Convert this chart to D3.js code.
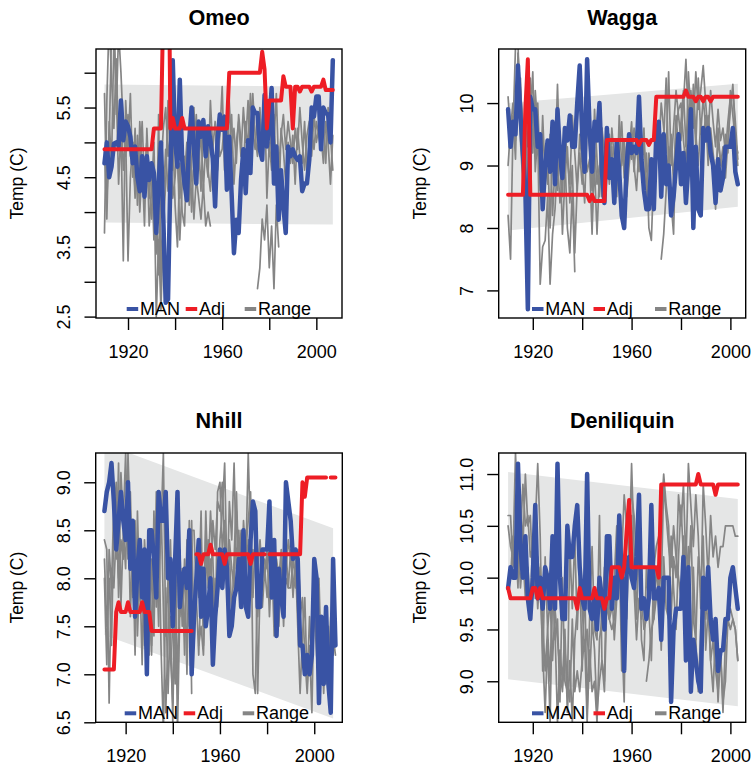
<!DOCTYPE html>
<html><head><meta charset="utf-8">
<script src="https://cdn.jsdelivr.net/npm/d3@7/dist/d3.min.js"></script>
<style>body{margin:0;background:#fff} svg{display:block}</style>
</head><body><svg id="c" width="753" height="766"></svg>
<script>
// ---------------- DATA ----------------
const stationNames = ["Omeo", "Wagga", "Nhill", "Deniliquin"];
const legendLabels = ["MAN", "Adj", "Range"];
const xTickValues = [1920, 1940, 1960, 1980, 2000];
const xTickLabels = [1920, 1960, 2000];

// Omeo (1910-2007)
const omeoStart = 1910;
const omeoMAN = [
 4.70,5.0,4.5,4.65,4.98,5.0,4.95,5.6,5.03,5.3,
 5.23,5.08,4.7,4.94,4.5,4.3,4.8,4.22,4.8,4.46,
 4.7,4.56,3.7,4.4,5.0,3.9,2.7,2.75,4.5,6.18,
 5.03,4.65,5.9,4.75,4.41,4.17,5.03,5.5,4.9,4.41,
 5.3,5.08,5.32,4.8,5.23,5.03,4.77,4.08,5.03,5.4,
 5.18,5.37,4.32,5.08,4.27,3.41,3.89,3.7,4.46,4.9,
 4.27,5.03,4.56,5.5,5.42,5.42,4.9,4.75,5.68,4.94,
 5.23,5.78,4.41,4.94,3.89,4.6,4.08,3.7,4.94,4.8,
 4.9,4.8,4.75,4.8,4.3,4.41,4.41,4.75,5.5,5.37,
 5.66,5.66,4.9,5.5,5.42,5.4,5.0,6.18];
const omeoAdj = [
 4.9,4.9,4.9,4.9,4.9,4.9,4.9,4.9,4.9,4.9,
 4.9,4.9,4.9,4.9,4.9,4.9,4.9,4.9,4.9,4.9,
 4.9,5.2,5.2,5.2,5.2,7.0,8.0,9.0,5.2,5.35,
 5.2,5.2,5.2,5.35,5.2,5.2,5.2,5.2,5.2,5.2,
 5.2,5.2,5.2,5.2,5.2,5.2,5.2,5.2,5.2,5.2,
 5.2,5.2,5.2,6.0,6.0,6.0,6.0,6.0,6.0,6.0,
 6.0,6.0,6.0,6.0,6.0,6.0,6.0,6.3,6.05,5.2,
 5.6,5.6,5.6,5.6,5.6,5.6,5.95,5.8,5.8,5.8,
 5.2,5.8,5.8,5.73,5.8,5.8,5.8,5.8,5.73,5.8,
 5.8,5.8,5.8,5.9,5.75,5.75,5.75,5.75];
const omeoRange1 = [
 5.7,4.2,5.0,6.6,6.9,5.4,6.6,6.0,5.2,4.8,
 5.4,4.8,5.0,4.3,5.1,4.6,5.3,4.4,5.0,4.2,
 4.7,3.6,4.3,3.1,4.6,5.2,5.5,4.8,5.1,4.6,
 5.3,4.7,4.2,4.9,4.5,5.0,4.1,4.7,5.5,4.6,
 5.0,4.3,5.2,4.8,4.5,5.6,4.9,5.3,4.6,5.1,
 5.8,4.6,5.2,4.9,5.4,4.4,5.0,5.3,4.8,5.5,
 5.0,5.6,4.7,5.7,5.1,4.8,5.5,4.9,5.6,5.2,
 4.8,5.3,5.0,5.7,4.6,5.1,5.4,4.9,5.3,5.0,
 4.7,5.2,4.9,5.5,5.0,4.6,5.1,5.3,4.8,5.4,
 5.0,5.2,5.1,4.7,5.3,5.0,4.4,5.1];
const omeoRange2 = [
 3.7,5.6,6.8,5.9,5.2,6.2,4.9,5.5,4.6,5.1,
 3.3,4.5,5.0,4.2,4.8,4.0,4.7,3.8,5.2,4.4,
 3.9,4.6,2.5,3.6,2.6,3.8,4.4,5.6,4.6,5.2,
 4.1,3.5,4.7,4.0,3.8,4.9,4.3,4.6,3.9,4.5,
 4.2,3.9,4.4,3.8,4.0,3.8,null,null,null,null,
 null,null,null,null,null,null,null,null,null,null,
 null,null,null,null,null,2.9,3.2,3.9,3.6,4.1,
 3.2,3.8,2.9,4.1,3.5,null,null,null,null,null,
 null,null,null,null,null,null,null,null,null,null,
 null,null,null,null,null,null,null,null];
const omeoRange3 = [
 4.9,3.9,5.3,4.7,6.5,5.8,4.4,5.2,3.3,5.6,
 4.9,5.7,4.5,5.2,4.1,5.3,4.6,4.2,5.0,3.8,
 4.3,5.0,3.4,5.4,3.0,4.2,4.9,4.3,5.0,4.2,
 4.5,5.0,3.6,4.4,4.8,4.2,5.1,4.0,4.8,5.4,
 4.6,5.2,4.3,5.0,4.6,4.3,4.9,4.5,5.2,4.8,
 4.9,5.3,4.5,5.6,4.9,5.2,4.7,5.4,5.0,4.6,
 5.3,4.9,5.7,5.2,4.9,5.4,4.8,5.2,5.7,4.2,
 5.0,4.6,5.4,4.5,3.9,5.2,4.9,4.4,5.0,4.7,
 5.1,4.4,5.2,4.8,4.7,5.3,4.6,5.0,5.2,4.9,
 5.3,5.1,4.9,5.3,4.7,5.5,5.1,4.6];
const omeoBandYears = [1910, 2007];
const omeoBandUpper = [5.83, 5.80];
const omeoBandLower = [3.85, 3.82];

// Wagga (1910-2003)
const waggaStart = 1910;
const waggaMAN = [
 9.9,9.3,9.7,9.5,10.6,9.8,9.2,8.6,6.7,10.1,
 9.9,9.9,9.3,9.5,8.3,9.0,9.4,8.9,9.7,8.7,
 9.9,9.2,8.8,9.6,9.4,9.8,9.3,9.3,10.0,10.6,
 9.5,8.9,10.7,9.6,8.9,9.7,9.4,10.0,8.9,8.4,
 9.6,8.8,9.1,8.4,9.4,8.9,8.2,8.0,9.0,9.5,
 9.2,9.3,9.2,10.1,9.1,8.6,8.3,8.3,9.1,8.3,
 9.5,9.7,8.5,9.5,8.7,9.0,8.2,8.5,9.0,9.5,
 8.7,9.2,8.4,9.0,9.9,8.0,9.3,8.3,8.2,9.6,
 9.4,9.6,9.2,9.0,8.4,9.1,8.6,8.8,9.3,9.3,
 9.3,9.6,8.9,8.7];
const waggaAdj = [
 8.53,8.53,8.53,8.53,8.53,8.53,8.53,9.9,10.7,8.53,
 8.53,8.53,8.53,8.53,8.53,8.53,8.53,8.53,8.53,8.53,
 8.53,8.53,8.53,8.53,8.53,8.53,8.53,8.53,8.53,8.53,
 8.53,8.53,8.53,8.43,8.53,8.43,8.43,8.43,8.43,8.43,
 9.41,9.41,9.41,9.41,9.41,9.41,9.41,9.41,9.41,9.41,
 9.41,9.41,9.41,9.33,9.41,9.41,9.41,9.33,9.41,9.41,
 10.1,10.1,10.1,10.1,10.1,10.1,10.1,10.1,10.1,10.1,
 10.1,10.1,10.2,10.1,10.1,10.1,10.03,10.1,10.1,10.03,
 10.1,10.1,10.03,10.1,10.1,10.1,10.1,10.1,10.1,10.1,
 10.1,10.1,10.1,10.1];
const waggaRange1 = [
 8.2,7.5,9.6,10.9,11.0,9.4,8.7,9.9,8.0,10.4,
 9.2,10.2,9.6,8.6,9.8,8.8,9.3,8.0,9.4,8.9,
 10.3,9.0,8.5,9.6,9.1,8.7,9.8,9.2,8.6,9.5,
 9.0,8.4,9.7,9.3,8.6,9.9,9.1,8.5,9.6,9.2,
 8.9,9.5,9.0,8.6,9.4,9.2,9.7,8.8,9.3,9.5,
 9.1,9.6,9.3,8.9,9.4,8.7,9.2,8.0,7.8,8.9,
 9.5,9.2,10.0,9.6,9.2,10.5,9.0,9.6,10.2,9.8,
 9.4,10.0,10.7,9.7,10.2,9.6,10.5,9.9,10.2,10.6,
 10.0,9.5,10.2,9.7,9.3,9.9,9.4,9.6,9.2,9.7,
 10.1,10.2,9.7,9.1];
const waggaRange2 = [
 10.1,9.5,9.8,9.1,10.8,10.2,9.7,8.8,7.4,9.8,
 10.5,8.9,9.5,7.1,7.7,7.8,8.5,7.1,7.9,8.3,
 9.1,8.4,8.8,9.2,8.0,7.6,8.6,7.3,null,null,
 null,null,null,null,8.2,9.0,7.9,8.9,9.6,8.6,
 9.3,8.7,9.6,9.1,8.5,9.8,9.0,9.4,8.6,9.2,
 9.7,8.9,9.5,9.8,9.0,9.3,8.9,null,null,null,
 null,null,7.5,7.9,8.6,9.3,8.4,7.9,9.6,9.9,
 10.0,9.4,9.0,10.5,9.8,10.1,9.3,10.4,9.5,10.1,
 9.6,9.8,9.4,9.1,8.3,9.6,9.0,9.3,8.8,9.4,
 9.9,10.3,9.5,9.0];
const waggaRange3 = [
 9.0,9.6,10.0,9.4,9.9,10.4,9.1,9.8,9.3,10.3,
 9.7,9.2,10.0,8.9,9.4,9.1,8.7,9.5,8.2,9.0,
 8.6,9.3,7.9,8.8,9.3,8.4,9.0,7.6,8.7,9.2,
 8.7,9.4,8.9,9.1,7.9,9.3,8.7,9.0,8.5,8.9,
 9.2,8.8,9.3,8.4,9.0,8.7,9.1,9.4,8.5,9.0,
 9.4,9.0,8.6,9.3,8.9,9.6,8.5,9.2,8.8,9.0,
 9.2,9.7,8.9,9.4,10.4,9.0,9.5,8.7,9.8,9.3,
 9.7,10.2,9.3,9.8,9.1,10.3,9.5,9.0,9.7,9.4,
 9.8,9.0,9.6,9.2,8.8,9.4,9.1,8.9,9.5,9.2,
 10.2,9.8,9.4,9.2];
const waggaBandYears = [1910, 2003];
const waggaBandUpper = [10.0, 10.31];
const waggaBandLower = [7.96, 8.34];

// Nhill (1911-2009)
const nhillStart = 1911;
const nhillMAN = [
 8.7,8.9,9.0,9.2,8.8,8.3,8.6,8.9,8.6,
 8.4,9.0,8.1,8.6,7.6,8.1,8.4,7.8,8.3,7.0,
 8.5,8.5,8.2,7.8,8.9,8.6,8.6,8.9,8.0,8.2,
 7.5,8.2,8.9,7.7,8.0,8.1,7.9,8.5,7.0,7.6,
 8.0,8.4,7.6,8.1,7.5,7.7,8.0,7.1,7.6,7.9,
 8.3,7.9,8.3,8.1,7.4,7.5,7.8,7.9,8.2,7.7,
 8.5,7.7,7.6,8.4,8.8,8.7,7.7,7.7,8.3,8.3,
 8.3,8.8,7.8,8.4,7.4,8.1,7.8,7.6,9.0,8.8,
 8.6,8.2,8.3,8.2,7.3,7.3,7.0,7.2,7.0,7.2,
 8.2,8.0,6.7,7.6,6.9,7.7,6.9,6.6,8.2,7.3];
const nhillAdj = [
 7.05,7.05,7.05,7.05,7.05,7.65,7.75,7.65,7.65,
 7.65,7.75,7.65,7.65,7.65,7.65,7.65,7.75,7.65,7.65,
 7.65,7.45,7.45,7.45,7.45,7.45,7.45,7.45,7.45,7.45,
 7.45,7.45,7.45,7.45,7.45,7.45,7.45,7.45,7.45,null,
 8.25,8.25,8.15,8.25,8.25,8.25,8.35,8.25,8.25,8.25,
 8.25,8.25,8.15,8.25,8.25,8.25,8.25,8.25,8.25,8.25,
 8.25,8.25,8.25,8.15,8.25,8.25,8.25,8.25,8.25,8.25,
 null,8.25,8.25,8.25,8.25,8.25,8.25,8.25,8.25,8.25,
 8.25,8.25,8.25,8.25,8.25,9.0,8.85,9.05,9.05,9.05,
 9.05,9.05,9.05,9.05,9.05,9.05,null,9.05,9.05,9.05];
const nhillRange1 = [
 8.4,8.3,6.7,8.1,7.9,8.5,8.0,9.1,8.6,
 9.3,8.2,8.9,7.9,8.6,7.4,8.1,7.1,8.4,7.9,
 8.3,7.2,8.7,7.7,8.6,7.3,6.4,7.9,6.8,7.6,
 6.5,8.2,6.4,7.7,8.1,7.2,8.4,7.5,8.6,7.3,
 8.2,7.8,8.7,7.3,8.5,8.0,8.7,8.2,7.4,8.9,
 9.0,8.3,8.6,7.8,8.8,8.4,9.2,8.1,8.5,7.9,
 8.6,8.2,9.3,8.4,7.8,8.5,6.8,7.9,8.3,8.0,
 8.3,7.6,8.2,7.4,8.0,7.8,8.1,7.5,8.3,7.9,
 8.3,7.8,8.2,7.5,6.8,7.4,7.8,6.9,7.6,7.1,
 7.7,7.2,6.9,7.5,6.8,7.4,7.0,7.6,7.2,7.5];
const nhillRange2 = [
 8.2,7.5,8.0,7.3,8.6,9.0,7.8,8.4,8.2,
 8.7,8.9,7.6,8.4,7.2,8.7,7.8,8.3,7.5,8.1,
 7.2,8.2,7.4,8.9,8.1,8.5,9.3,7.4,8.0,7.2,
 6.7,7.8,6.9,8.3,7.5,8.2,7.0,8.6,6.8,null,
 null,7.3,7.5,7.2,8.0,8.4,7.7,8.6,8.3,8.8,
 8.7,9.0,8.3,7.9,8.4,8.1,7.9,8.7,8.2,8.5,
 7.9,8.3,8.6,8.9,7.0,6.8,8.1,8.4,8.0,8.2,
 8.1,8.3,7.9,8.0,7.8,7.5,8.2,7.7,8.0,7.9,
 7.9,8.2,8.0,8.3,7.6,7.8,7.2,6.8,7.3,6.6,
 7.9,7.4,8.0,7.1,7.6,6.9,7.5,7.0,7.4,7.2];
const nhillRange3 = [
 8.0,7.1,8.3,7.9,8.8,8.2,9.2,7.7,8.5,
 8.1,9.3,8.5,7.8,8.2,7.6,8.0,7.9,7.3,8.2,
 7.6,7.3,8.1,8.3,7.5,8.8,7.7,6.6,7.4,8.4,
 7.4,6.9,8.3,7.6,8.0,7.4,8.1,7.7,8.5,8.5,
 7.8,7.2,8.0,7.5,8.7,7.9,8.2,7.6,8.0,7.7,
 8.4,8.7,9.2,8.0,8.3,7.6,8.2,8.9,8.0,8.4,
 8.2,8.0,8.4,7.8,8.3,8.1,7.6,8.0,7.7,8.1,
 7.8,8.1,8.3,7.9,8.2,8.0,8.3,7.8,8.1,8.4,
 8.2,8.0,7.9,8.3,7.8,null,null,null,null,null,
 null,null,null,null,null,null,null,null,null,null];
const nhillBandYears = [1911, 2008];
const nhillBandUpper = [9.40, 8.52];
const nhillBandLower = [7.41, 6.54];

// Deniliquin (1910-2003)
const deniStart = 1910;
const deniMAN = [
 9.9,10.1,10.0,10.0,11.1,10.3,10.0,10.4,9.8,9.6,
 10.0,10.7,9.8,10.0,9.7,10.1,10.0,9.7,10.4,9.7,
 11.1,10.0,9.6,9.6,10.5,10.2,10.2,10.5,10.7,10.1,
 9.8,9.7,11.0,9.7,9.6,9.8,9.5,10.0,9.8,9.5,
 10.4,10.4,9.7,10.0,9.8,10.6,10.0,9.1,10.1,10.2,
 10.0,9.9,10.2,10.8,9.7,9.8,9.6,9.8,10.7,9.8,
 9.8,9.9,9.4,10.0,10.0,10.0,8.8,9.5,9.7,9.7,
 9.7,10.2,9.2,10.1,8.9,9.4,9.2,9.0,8.9,10.0,
 9.7,10.1,9.6,9.4,9.6,9.1,9.3,9.3,9.6,9.6,
 10.0,10.1,9.9,9.7];
const deniAdj = [
 9.9,9.8,9.8,9.8,9.8,9.8,9.8,9.8,9.8,9.8,
 9.9,9.9,9.8,9.9,9.8,9.8,9.8,9.8,9.8,9.8,
 9.8,9.8,9.8,9.8,9.8,9.8,9.8,9.8,9.7,9.9,
 9.8,9.8,9.8,9.8,9.8,9.9,9.8,9.8,9.8,9.7,
 9.8,9.8,10.1,10.1,10.1,10.1,10.0,10.1,10.45,10.75,
 10.1,10.1,10.1,10.1,10.1,10.1,10.1,10.1,10.1,10.1,
 10.1,10.0,10.9,10.9,10.9,10.9,10.9,10.9,10.9,10.9,
 10.9,10.9,10.9,10.9,10.9,10.9,10.9,11.0,10.9,10.9,
 10.9,10.9,10.9,10.9,10.8,10.9,10.9,10.9,10.9,10.9,
 10.9,10.9,10.9,10.9];
const deniRange1 = [
 10.5,10.3,10.2,11.2,10.6,10.4,10.9,10.5,10.6,10.2,
 10.3,10.5,11.1,10.4,9.1,10.2,9.5,9.0,10.0,9.4,
 9.6,8.8,10.0,9.0,8.9,10.3,9.7,10.4,9.5,10.1,
 9.1,10.0,8.7,9.6,10.3,9.5,9.4,10.6,9.2,9.0,
 10.2,9.6,9.7,10.0,10.5,10.2,9.5,8.8,10.6,10.2,
 11.1,10.3,9.6,10.4,9.4,9.2,10.1,9.7,10.3,9.6,
 10.1,9.8,10.6,11.0,10.7,10.5,9.6,10.2,10.0,10.8,
 10.5,10.9,10.1,11.1,10.7,10.3,10.8,10.4,9.7,10.9,
 10.5,10.0,10.6,10.2,10.4,10.1,10.3,10.3,10.5,10.5,
 10.5,10.5,10.4,10.4];
const deniRange2 = [
 10.6,10.6,10.1,10.4,9.9,10.8,10.3,11.0,10.5,10.6,
 10.0,10.2,9.7,10.1,9.6,9.1,9.5,9.8,9.2,9.7,
 9.4,9.1,8.9,9.3,9.0,8.8,9.6,8.9,9.1,8.9,
 9.2,9.4,8.6,9.3,8.9,9.0,8.6,9.4,9.6,10.1,
 9.7,9.6,9.5,9.6,10.0,9.9,10.2,10.8,10.5,10.7,
 10.8,10.6,10.2,10.4,9.8,9.5,9.6,9.7,9.2,10.1,
 10.3,10.4,9.9,10.9,10.6,10.3,10.1,10.5,10.2,10.0,
 9.8,10.4,10.0,9.9,10.5,9.6,9.4,10.2,9.9,10.4,
 9.3,9.7,9.2,9.4,9.1,8.9,9.3,8.8,9.0,9.6,
 9.5,9.6,9.5,9.2];
const deniRange3 = [
 9.9,10.0,10.4,10.1,10.5,9.9,10.2,9.8,10.1,9.7,
 10.4,9.8,10.2,9.9,9.3,8.7,9.4,8.6,9.9,9.5,
 8.6,9.3,9.0,9.5,8.7,9.2,8.6,9.4,9.7,10.0,
 9.7,9.3,9.5,9.0,9.6,9.3,8.7,9.0,9.2,8.9,
 9.8,9.6,9.9,9.4,9.8,10.3,9.1,10.0,9.6,10.4,
 10.6,9.9,9.4,9.8,9.6,null,9.0,9.2,9.5,9.6,
 9.8,10.0,9.3,10.2,9.7,9.6,10.4,9.9,9.5,10.2,
 10.7,10.2,9.9,10.3,9.0,10.1,9.4,8.9,9.5,9.8,
 9.6,9.9,9.2,8.9,9.5,8.8,9.3,8.7,9.4,9.6,
 9.7,9.6,9.5,9.2];
const deniBandYears = [1910, 2003];
const deniBandUpper = [11.02, 10.76];
const deniBandLower = [9.02, 8.76];

// ---------------- LAYOUT / STYLE ----------------
const FONT = '"Liberation Sans", Arial, Helvetica, sans-serif';
const BLUE = "#3953a4", RED = "#ee1d25", GREY = "#858585", BAND = "#e5e6e6";

const panels = [
  {name: stationNames[0], start: omeoStart, man: omeoMAN, adj: omeoAdj,
   ranges: [omeoRange1, omeoRange2, omeoRange3],
   band: [omeoBandYears, omeoBandUpper, omeoBandLower],
   box: {x0: 96, x1: 342, y0: 49, y1: 318}, xdom: [1906.4, 2010.9], ydom: [2.48, 6.34],
   yticks: [2.5,3,3.5,4,4.5,5,5.5,6], ylabels: [2.5,3.5,4.5,5.5], fmt: d3.format(".1f"),
   titleY: 25, legOff: 30.7, legStep: 59},
  {name: stationNames[1], start: waggaStart, man: waggaMAN, adj: waggaAdj,
   ranges: [waggaRange1, waggaRange2, waggaRange3],
   band: [waggaBandYears, waggaBandUpper, waggaBandLower],
   box: {x0: 498.7, x1: 745.7, y0: 49, y1: 318}, xdom: [1906.2, 2006.2], ydom: [6.558, 10.866],
   yticks: [7,8,9,10], ylabels: [7,8,9,10], fmt: d3.format("d"),
   titleY: 25, legOff: 33.3, legStep: 61.5},
  {name: stationNames[2], start: nhillStart, man: nhillMAN, adj: nhillAdj,
   ranges: [nhillRange1, nhillRange2, nhillRange3],
   band: [nhillBandYears, nhillBandUpper, nhillBandLower],
   box: {x0: 95.7, x1: 342.3, y0: 453, y1: 722.3}, xdom: [1907.3, 2011.9], ydom: [6.5, 9.305],
   yticks: [6.5,7,7.5,8,8.5,9], ylabels: [6.5,7,7.5,8,8.5,9], fmt: d3.format(".1f"),
   titleY: 428, legOff: 29, legStep: 59},
  {name: stationNames[3], start: deniStart, man: deniMAN, adj: deniAdj,
   ranges: [deniRange1, deniRange2, deniRange3],
   band: [deniBandYears, deniBandUpper, deniBandLower],
   box: {x0: 498.7, x1: 745.7, y0: 453, y1: 722.3}, xdom: [1906.2, 2006.2], ydom: [8.604, 11.203],
   yticks: [9,9.5,10,10.5,11], ylabels: [9,9.5,10,10.5,11], fmt: d3.format(".1f"),
   titleY: 428, legOff: 33.3, legStep: 61.5}
];

const svg = d3.select("#c");
const defs = svg.append("defs");

function toPts(start, arr) { return arr.map((v, i) => ({year: start + i, v: v})); }

panels.forEach((p, i) => {
  const b = p.box;
  const x = d3.scaleLinear().domain(p.xdom).range([b.x0, b.x1]);
  const y = d3.scaleLinear().domain(p.ydom).range([b.y1, b.y0]);
  const clipId = "clip" + i;
  defs.append("clipPath").attr("id", clipId).append("rect")
    .attr("x", b.x0).attr("y", b.y0).attr("width", b.x1 - b.x0).attr("height", b.y1 - b.y0);
  const g = svg.append("g");
  const plot = g.append("g").attr("clip-path", `url(#${clipId})`);

  const line = d3.line().defined(d => d.v != null).x(d => x(d.year)).y(d => y(d.v));

  // band
  const bandData = p.band[0].map((yr, k) => ({year: yr, hi: p.band[1][k], lo: p.band[2][k]}));
  plot.append("path").datum(bandData)
    .attr("d", d3.area().x(d => x(d.year)).y0(d => y(d.lo)).y1(d => y(d.hi)))
    .attr("fill", BAND);

  // range lines
  p.ranges.forEach(r => {
    plot.append("path").datum(toPts(p.start, r)).attr("d", line)
      .attr("fill", "none").attr("stroke", GREY).attr("stroke-width", 1.7)
      .attr("stroke-linejoin", "round").attr("stroke-linecap", "round");
  });
  // MAN
  plot.append("path").datum(toPts(p.start, p.man)).attr("d", line)
    .attr("fill", "none").attr("stroke", BLUE).attr("stroke-width", 4.5)
    .attr("stroke-linejoin", "round").attr("stroke-linecap", "round");
  // Adj
  plot.append("path").datum(toPts(p.start, p.adj)).attr("d", line)
    .attr("fill", "none").attr("stroke", RED).attr("stroke-width", 4)
    .attr("stroke-linejoin", "round").attr("stroke-linecap", "round");

  // box
  g.append("rect").attr("x", b.x0).attr("y", b.y0).attr("width", b.x1 - b.x0).attr("height", b.y1 - b.y0)
    .attr("fill", "none").attr("stroke", "#000").attr("stroke-width", 1.4);

  // x axis
  const xa = d3.axisBottom(x).tickValues(xTickValues).tickSize(12)
    .tickFormat(d => xTickLabels.includes(d) ? String(d) : "");
  const xg = g.append("g").attr("transform", `translate(0,${b.y1})`).call(xa)
    .attr("font-family", FONT).attr("font-size", 18);
  xg.select(".domain").remove();
  xg.selectAll(".tick line").attr("stroke", "#000").attr("stroke-width", 1.4);
  xg.selectAll(".tick text").attr("y", 40).attr("dy", 0).attr("fill", "#000");

  // y axis
  const ya = d3.axisLeft(y).tickValues(p.yticks).tickSize(11.5)
    .tickFormat(d => p.ylabels.includes(d) ? p.fmt(d) : "");
  const yg = g.append("g").attr("transform", `translate(${b.x0},0)`).call(ya)
    .attr("font-family", FONT).attr("font-size", 18);
  yg.select(".domain").remove();
  yg.selectAll(".tick line").attr("stroke", "#000").attr("stroke-width", 1.4);
  yg.selectAll(".tick text").attr("x", 0).attr("y", 0).attr("dy", 0)
    .attr("text-anchor", "middle").attr("fill", "#000")
    .attr("transform", "translate(-26,0) rotate(-90)");

  // y label
  g.append("text").attr("transform", `translate(${b.x0 - 73},${(b.y0 + b.y1) / 2}) rotate(-90)`)
    .attr("text-anchor", "middle").attr("font-family", FONT).attr("font-size", 17.5)
    .text("Temp (C)");

  // title
  g.append("text").attr("x", (b.x0 + b.x1) / 2).attr("y", p.titleY)
    .attr("text-anchor", "middle").attr("font-family", FONT).attr("font-size", 21.6)
    .attr("font-weight", "bold").text(p.name);

  // legend
  const legColors = [BLUE, RED, GREY];
  legendLabels.forEach((lab, k) => {
    const lx = b.x0 + p.legOff + k * p.legStep;
    g.append("line").attr("x1", lx).attr("x2", lx + 11.5)
      .attr("y1", b.y1 - 9).attr("y2", b.y1 - 9)
      .attr("stroke", legColors[k]).attr("stroke-width", 4);
    g.append("text").attr("x", lx + 13.3).attr("y", b.y1 - 3)
      .attr("font-family", FONT).attr("font-size", 18).text(lab);
  });
});
</script>
</body></html>
